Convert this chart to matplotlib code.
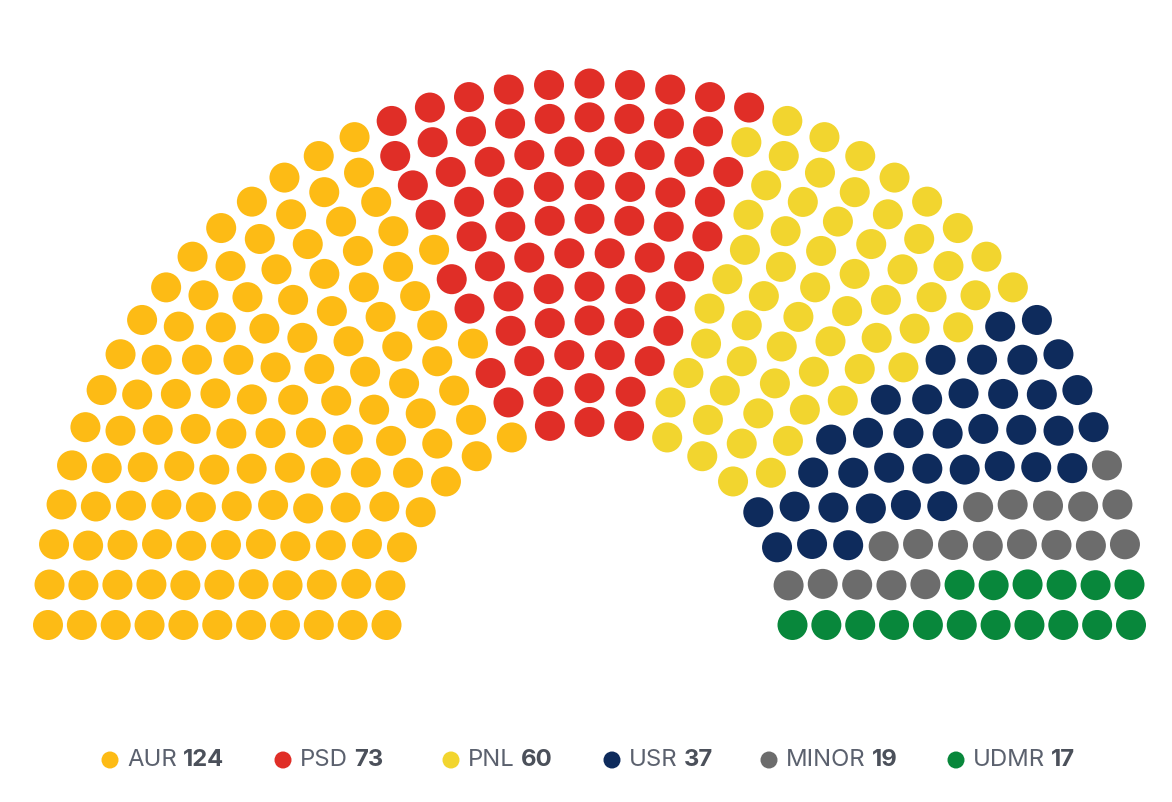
import numpy as np
import matplotlib
matplotlib.use("Agg")
import matplotlib.pyplot as plt
from matplotlib.patches import Circle

parties = ["AUR", "PSD", "PNL", "USR", "MINOR", "UDMR"]
seats = [124, 73, 60, 37, 19, 17]
colors = ["#FDBB15", "#E02E27", "#F2D52F", "#0E2B5C", "#6C6C6C", "#08873B"]

# seats in each arc, inner to outer
row_seats = [17, 19, 22, 25, 27, 30, 33, 35, 38, 41, 43]

W, H = 1172, 802
fig = plt.figure(figsize=(W / 100, H / 100), dpi=100)
ax = fig.add_axes([0, 0, 1, 1])
ax.set_xlim(0, W)
ax.set_ylim(H, 0)
ax.set_aspect("equal")
ax.axis("off")

cx, cy = 589.5, 625
r_in, r_out = 203, 541.5
dot_r = 15

# all slots sorted by angle, left to right (inner ring first on ties)
slots = []
nrows = len(row_seats)
for i, n in enumerate(row_seats):
    r = r_in + (r_out - r_in) * i / (nrows - 1)
    for k in range(n):
        a = np.pi - np.pi * k / (n - 1)
        slots.append((round(k / (n - 1), 9), i, cx + r * np.cos(a), cy - r * np.sin(a)))
slots.sort(key=lambda s: (s[0], s[1]))

seat_colors = []
for c, n in zip(colors, seats):
    seat_colors += [c] * n

for s, c in zip(slots, seat_colors):
    ax.add_patch(Circle((s[2], s[3]), dot_r, color=c, lw=0))

# legend
leg_x = [110, 283, 451, 612, 769, 956]
leg_y = 760
fig.canvas.draw()
rend = fig.canvas.get_renderer()
inv = ax.transData.inverted()
for x0, name, n, c in zip(leg_x, parties, seats, colors):
    ax.add_patch(Circle((x0, leg_y), 8.5, color=c, lw=0))
    t = ax.text(x0 + 17, leg_y, name, fontsize=17.2, family="Inter",
                color="#5B616E", va="center", ha="left")
    bb = t.get_window_extent(renderer=rend)
    xr = inv.transform((bb.x1, bb.y0))[0]
    ax.text(xr + 6, leg_y, str(n), fontsize=17.2, family="Inter",
            fontweight="bold", color="#4B505A", va="center", ha="left")

fig.savefig("out.png", dpi=100, facecolor="white")
